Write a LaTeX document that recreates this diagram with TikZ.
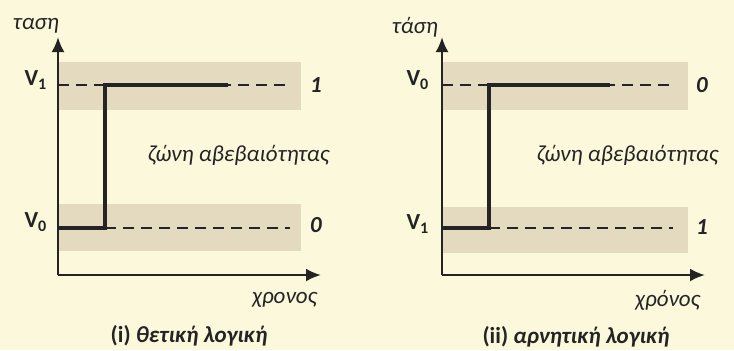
\documentclass[tikz,border=0pt]{standalone}
\usepackage{fontspec}
\setmainfont{Carlito}
\usetikzlibrary{arrows.meta}
\definecolor{paper}{HTML}{FBF8DC}
\definecolor{zone}{HTML}{E3DAC0}
\definecolor{ink}{HTML}{242424}

\begin{document}
\begin{tikzpicture}[x=0.5pt,y=-0.5pt,
                    axis/.style={draw=ink,line width=1.2pt,-{Latex[length=7.5pt,width=6.5pt]}},
                    signal/.style={draw=ink,line width=2.4pt,line join=miter},
                    level/.style={draw=ink,line width=1.4pt,dash pattern=on 5.5pt off 3.5pt},
                    band/.style={fill=zone,draw=none},
                    lbl/.style={text=ink,font=\fontsize{11.5}{13}\selectfont,inner sep=0pt}]
  \fill[paper] (0,0) rectangle (734,350);
  \useasboundingbox (0,0) rectangle (734,350);
  \begin{scope}[shift={(58,0)}]
    \fill[band] (0,62) rectangle (243,110);
    \fill[band] (0,204) rectangle (243,251);
    \coordinate (o) at (0,275);
    \coordinate (ytip) at (0,37);
    \coordinate (xtip) at (263,275);
    \coordinate (hs) at (0,85);
    \coordinate (he) at (232,85);
    \coordinate (ls) at (0,228);
    \coordinate (le) at (232,228);
    \coordinate (a) at (0,228);
    \coordinate (b) at (47,228);
    \coordinate (c) at (47,85);
    \coordinate (d) at (170,85);
    \draw[level] (hs)--(he);
    \draw[level] (b)--(le);
    \draw[signal] (a)--(b)--(c)--(d);
    \draw[axis] (o)--(ytip);
    \draw[axis] (o)--(xtip);
    \node[lbl] (vh) at (-22,80) {\textbf{V\textsubscript{1}}};
    \node[lbl] (vl) at (-22,222) {\textbf{V\textsubscript{0}}};
    \node[lbl] (one) at (258,85) {\textbf{\textit{1}}};
    \node[lbl] (zero) at (258,225) {\textbf{\textit{0}}};
    \node[lbl] (ylab) at (-22,26) {\textit{ταση}};
    \node[lbl] (zlab) at (181,155) {\textit{ζώνη αβεβαιότητας}};
    \node[lbl] (xlab) at (227,300) {\textit{χρονος}};
    \node[lbl] (title) at (131,336) {\textbf{(i) \textit{θετική λογική}}};
  \end{scope}
  \begin{scope}[shift={(442,0)}]
    \fill[band] (0,62) rectangle (246,110);
    \fill[band] (0,207) rectangle (246,253);
    \coordinate (o) at (0,275);
    \coordinate (ytip) at (0,37);
    \coordinate (xtip) at (263,275);
    \coordinate (hs) at (0,85);
    \coordinate (he) at (231,85);
    \coordinate (ls) at (0,228);
    \coordinate (le) at (231,228);
    \coordinate (a) at (0,228);
    \coordinate (b) at (47,228);
    \coordinate (c) at (47,85);
    \coordinate (d) at (168,85);
    \draw[level] (hs)--(he);
    \draw[level] (b)--(le);
    \draw[signal] (a)--(b)--(c)--(d);
    \draw[axis] (o)--(ytip);
    \draw[axis] (o)--(xtip);
    \node[lbl] (vh) at (-24,80) {\textbf{V\textsubscript{0}}};
    \node[lbl] (vl) at (-24,224) {\textbf{V\textsubscript{1}}};
    \node[lbl] (zero) at (260,85) {\textbf{\textit{0}}};
    \node[lbl] (one) at (260,227) {\textbf{\textit{1}}};
    \node[lbl] (ylab) at (-27,27) {\textit{τάση}};
    \node[lbl] (zlab) at (186,155) {\textit{ζώνη αβεβαιότητας}};
    \node[lbl] (xlab) at (226,300) {\textit{χρόνος}};
    \node[lbl] (title) at (134,337) {\textbf{(ii) \textit{αρνητική λογική}}};
  \end{scope}
\end{tikzpicture}
\end{document}
